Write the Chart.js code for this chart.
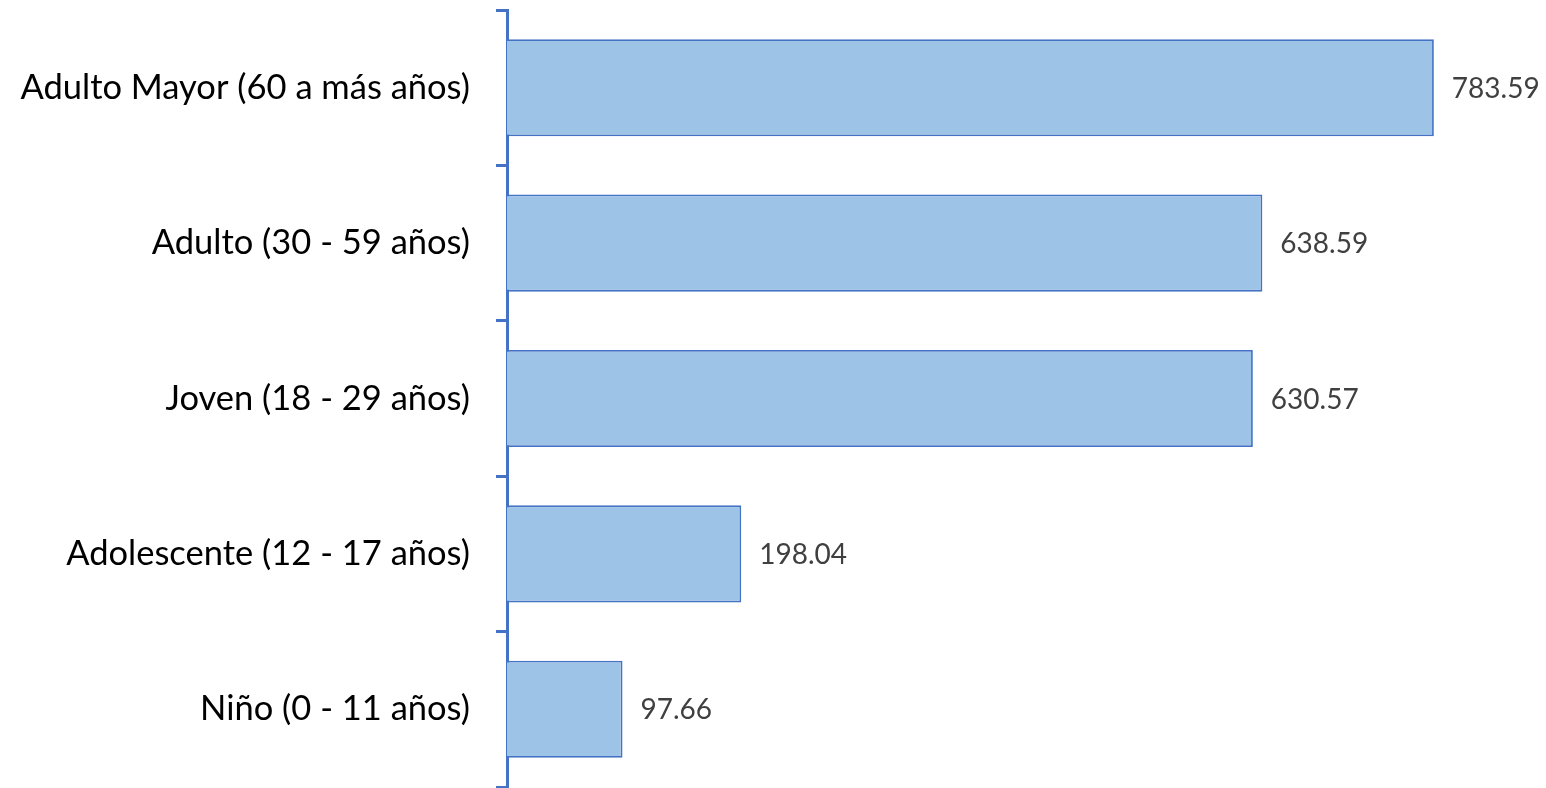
<!DOCTYPE html>
<html><head><meta charset="utf-8">
<script src="https://cdn.jsdelivr.net/npm/chart.js@4"></script>
<style>html,body{margin:0;padding:0;background:#fff}#wrap{width:1546px;height:788px}</style>
</head><body><div id="wrap"><canvas id="c"></canvas></div>
<script>
const categories = ["Adulto Mayor (60 a más años)","Adulto (30 - 59 años)","Joven (18 - 29 años)","Adolescente (12 - 17 años)","Niño (0 - 11 años)"];
const values = [783.59, 638.59, 630.57, 198.04, 97.66];
const valueLabels = ["783.59","638.59","630.57","198.04","97.66"];

const labelPlugin = {
  id:'valueLabels',
  afterDatasetsDraw(chart){
    const ctx = chart.ctx;
    const meta = chart.getDatasetMeta(0);
    ctx.save();
    ctx.font = '28px Lato';
    ctx.fillStyle = '#404040';
    ctx.textAlign = 'left';
    ctx.textBaseline = 'middle';
    meta.data.forEach((el,i)=>{
      ctx.fillText(valueLabels[i], el.x + 18, el.y + 1);
    });
    ctx.restore();
  }
};

new Chart(document.getElementById('c'), {
  type:'bar',
  data:{labels:categories, datasets:[{data:values, backgroundColor:'#9DC3E6', borderColor:'#4472C4', borderWidth:1.8, categoryPercentage:1, barPercentage:0.625}]},
  options:{
    indexAxis:'y', responsive:true, maintainAspectRatio:false, animation:false,
    layout:{padding:{top:10,bottom:1,left:0,right:0}},
    plugins:{legend:{display:false}, tooltip:{enabled:false}},
    scales:{
      x:{display:false, min:0, max:878.4},
      y:{
        afterFit(s){ s.width = 507; s.paddingTop = 0; s.paddingBottom = 0; },
        border:{color:'#4472C4', width:3},
        grid:{drawOnChartArea:false, drawTicks:true, tickLength:11, color:'#4472C4', lineWidth:3, offset:true},
        ticks:{color:'#000', font:{family:'Lato', size:34.5}, padding:26}
      }
    }
  },
  plugins:[labelPlugin]
});
</script></body></html>
